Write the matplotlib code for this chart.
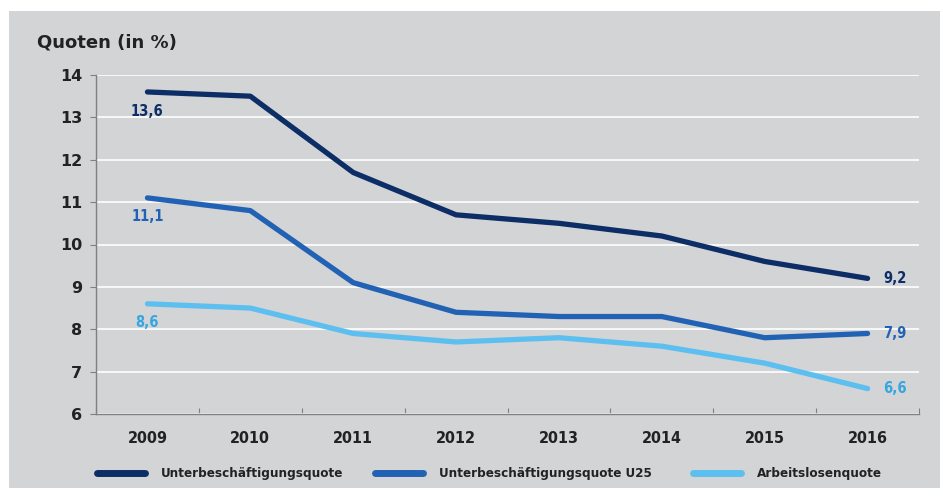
import matplotlib.pyplot as plt
import numpy as np
from matplotlib.patches import Rectangle
from matplotlib.lines import Line2D

years = ['2009', '2010', '2011', '2012', '2013', '2014', '2015', '2016']
unter = [13.6, 13.5, 11.7, 10.7, 10.5, 10.2, 9.6, 9.2]
unter_u25 = [11.1, 10.8, 9.1, 8.4, 8.3, 8.3, 7.8, 7.9]
arbeitslos = [8.6, 8.5, 7.9, 7.7, 7.8, 7.6, 7.2, 6.6]
names = ['Unterbeschäftigungsquote', 'Unterbeschäftigungsquote U25', 'Arbeitslosenquote']
colors = ['#0c2d66', '#2262b4', '#5cbff0']
label_colors = ['#0c2d66', '#2262b4', '#36a6e0']

cond = dict(family='DejaVu Sans', stretch='condensed', fontweight='bold')
bg = '#d3d4d6'

fig = plt.figure(figsize=(9.43, 4.96), dpi=100, facecolor='white')
fig.patches.append(Rectangle((9 / 943, 8 / 496), 931 / 943, 477 / 496,
                             transform=fig.transFigure, facecolor=bg,
                             edgecolor='none', zorder=-5))

ax = fig.add_axes([96 / 943, 82 / 496, 823 / 943, 339 / 496])
ax.set_zorder(2)
ax.set_facecolor(bg)
x = np.arange(len(years)) + 0.5

for vals, c, lc in zip([unter, unter_u25, arbeitslos], colors, label_colors):
    ax.plot(x, vals, color=c, lw=3.8, solid_capstyle='round', zorder=3)
    ax.text(x[0], vals[0] - 0.45, f'{vals[0]:.1f}'.replace('.', ','),
            color=lc, fontsize=10.5, ha='center', va='center', **cond)
    ax.text(x[-1] + 0.15, vals[-1], f'{vals[-1]:.1f}'.replace('.', ','),
            color=lc, fontsize=10.5, ha='left', va='center', **cond)

ax.set_xlim(0, len(years))
ax.set_ylim(6, 14)
ax.set_yticks(range(6, 15))
ax.set_yticklabels([str(v) for v in range(6, 15)], fontsize=11.5,
                   fontweight='bold', color='#222222')
ax.set_xticks(np.arange(len(years) + 1))
ax.set_xticklabels([])
ax.set_xticks(x, minor=True)
ax.set_xticklabels(years, minor=True, fontsize=11.5, color='#222222', **cond)
ax.tick_params(axis='x', which='minor', length=0, pad=12)
ax.tick_params(axis='x', which='major', length=4, color='#808080', direction='in')
ax.tick_params(axis='y', length=4, color='#808080', pad=6)
ax.grid(axis='y', color='white', lw=1.2, zorder=1)
for s in ['top', 'right']:
    ax.spines[s].set_visible(False)
for s in ['left', 'bottom']:
    ax.spines[s].set_color('#808080')
    ax.spines[s].set_linewidth(1)

fig.text(37 / 943, 1 - 42 / 496, 'Quoten (in %)', fontsize=13, fontweight='bold',
         color='#222222', va='center')

leg_x = [97, 375, 693]
for n, lx, c in zip(names, leg_x, colors):
    fig.lines.append(Line2D([lx / 943, (lx + 48) / 943], [1 - 473 / 496] * 2,
                            transform=fig.transFigure, color=c, lw=5,
                            solid_capstyle='round'))
    fig.text((lx + 64) / 943, 1 - 473 / 496, n, fontsize=9.6,
             color='#222222', va='center', **cond)

fig.savefig('out.png', dpi=100, facecolor='white')
